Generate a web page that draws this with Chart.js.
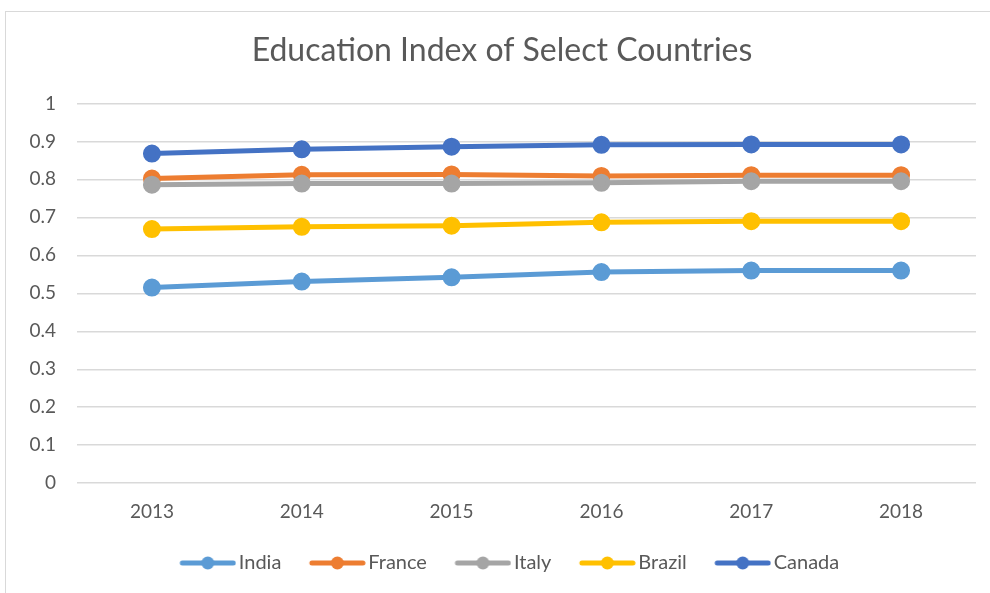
<!DOCTYPE html>
<html>
<head>
<meta charset="utf-8">
<script src="https://cdn.jsdelivr.net/npm/chart.js@4"></script>
<style>
  html, body { margin: 0; padding: 0; background: #fff; overflow: hidden; }
  #wrap { position: absolute; left: 0; top: 0; width: 990px; height: 593px; }
</style>
</head>
<body>
<div id="wrap"><canvas id="canvas" width="990" height="593"></canvas></div>
<script>
// data
var years = ['2013', '2014', '2015', '2016', '2017', '2018'];
var india  = [0.515, 0.531, 0.542, 0.556, 0.560, 0.560];
var france = [0.802, 0.812, 0.813, 0.809, 0.811, 0.811];
var italy  = [0.786, 0.789, 0.789, 0.791, 0.795, 0.795];
var brazil = [0.669, 0.675, 0.678, 0.687, 0.690, 0.690];
var canada = [0.868, 0.879, 0.886, 0.891, 0.892, 0.892];
var yTicks = [0, 0.1, 0.2, 0.3, 0.4, 0.5, 0.6, 0.7, 0.8, 0.9, 1];

var textColor = '#595959';
var fontName = 'Lato, "Open Sans", sans-serif';

// excel style legend marker: line with a dot
// left part of the canvas is left empty so the items get more space between them
function legendMark(color) {
    var c = document.createElement('canvas');
    c.width = 79; c.height = 16;
    var g = c.getContext('2d');
    g.strokeStyle = color;
    g.lineWidth = 5;
    g.lineCap = 'round';
    g.beginPath();
    g.moveTo(25, 8); g.lineTo(76, 8);
    g.stroke();
    g.fillStyle = color;
    g.beginPath();
    g.arc(50.5, 8, 6.5, 0, Math.PI * 2);
    g.fill();
    return c;
}

function series(label, data, color, order) {
    return {
        label: label,
        data: data,
        borderColor: color,
        backgroundColor: color,
        pointBackgroundColor: color,
        pointBorderColor: color,
        borderWidth: 5,
        pointRadius: 6.5,
        pointHoverRadius: 6.5,
        pointStyle: 'circle',
        order: order,
        tension: 0
    };
}

// outer frame like the office chart border
var frame = {
    id: 'frame',
    beforeDraw: function (chart) {
        var ctx = chart.ctx;
        ctx.save();
        ctx.strokeStyle = '#d9d9d9';
        ctx.lineWidth = 1;
        ctx.strokeRect(5.5, 11.5, 1000, 700);
        ctx.restore();
    }
};

const ctx = document.getElementById('canvas').getContext('2d');
const myChart = new Chart(ctx, {
    type: 'line',
    data: {
        labels: years,
        datasets: [
            series('India', india, '#5b9bd5', 5),
            series('France', france, '#ed7d31', 4),
            series('Italy', italy, '#a5a5a5', 3),
            series('Brazil', brazil, '#ffc000', 2),
            series('Canada', canada, '#4472c4', 1)
        ]
    },
    plugins: [frame],
    options: {
        responsive: false,
        animation: false,
        layout: {
            padding: { left: 28, right: 14, top: 11, bottom: 10 }
        },
        plugins: {
            title: {
                display: true,
                text: 'Education Index of Select Countries',
                color: textColor,
                font: { family: fontName, size: 32, weight: 'normal' },
                padding: { top: 20, bottom: 34 }
            },
            legend: {
                position: 'bottom',
                reverse: true,
                labels: {
                    color: textColor,
                    font: { family: fontName, size: 20 },
                    usePointStyle: true,
                    pointStyleWidth: 64,
                    padding: 13,
                    generateLabels: function (chart) {
                        var items = Chart.defaults.plugins.legend.labels.generateLabels(chart);
                        items.forEach(function (it) {
                            it.pointStyle = legendMark(chart.data.datasets[it.datasetIndex].borderColor);
                        });
                        return items;
                    }
                }
            },
            tooltip: { enabled: false }
        },
        scales: {
            x: {
                offset: true,
                grid: { display: false, drawTicks: false },
                border: { display: false },
                ticks: {
                    color: textColor,
                    font: { family: fontName, size: 19 },
                    padding: 17
                }
            },
            y: {
                min: 0,
                max: 1,
                afterFit: function (scale) { scale.width = 49; },
                afterBuildTicks: function (scale) {
                    scale.ticks = yTicks.map(function (v) { return { value: v }; });
                },
                grid: { color: '#d9d9d9', lineWidth: 1.5, drawTicks: false },
                border: { display: false },
                ticks: {
                    color: textColor,
                    font: { family: fontName, size: 19 },
                    padding: 21,
                    callback: function (v) { return String(Math.round(v * 10) / 10); }
                }
            }
        }
    }
});
</script>
</body>
</html>
